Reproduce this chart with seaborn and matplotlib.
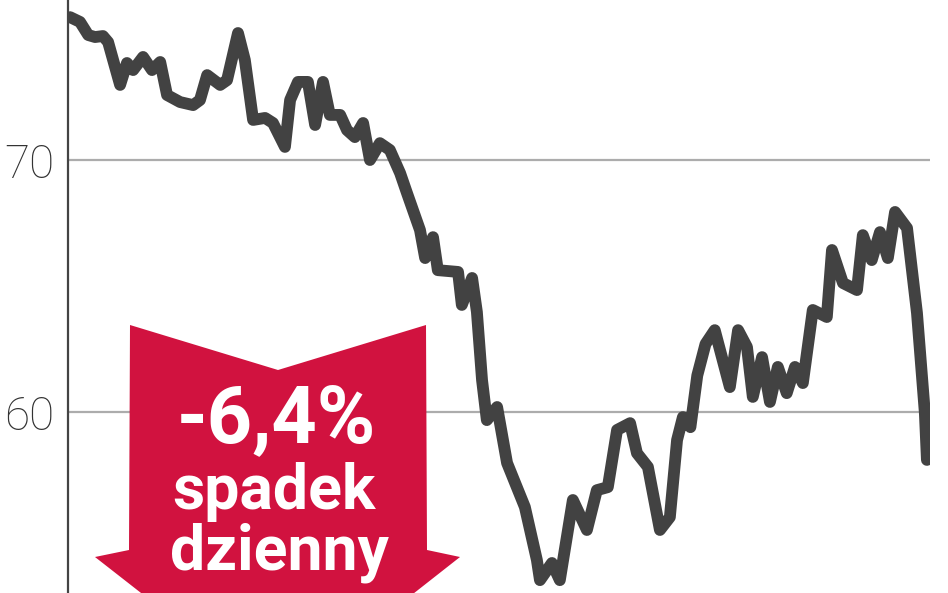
import matplotlib
matplotlib.use('agg')

import seaborn as sns
import matplotlib.pyplot as plt
from matplotlib.patches import Polygon


sns.set_style('white')
plt.rcParams['font.family'] = ['Roboto', 'DejaVu Sans']

# session number (trading days) and closing price
days = [0.0, 2.9, 5.3, 7.3, 9.6, 11.1, 14.6, 16.6, 18.4, 21.3, 23.9, 26.3, 28.3, 32.1,
        35.9, 37.9, 40.0, 43.8, 45.8, 49.0, 51.0, 53.4, 56.9, 59.2, 62.7, 64.2, 66.5,
        69.4, 71.5, 73.8, 75.8, 78.8, 80.8, 83.1, 85.5, 87.5, 90.4, 93.3, 96.3, 98.3,
        102.1, 103.6, 105.9, 107.3, 113.2, 114.3, 117.3, 118.7, 120.2, 121.6, 124.6,
        127.5, 132.7, 136.2, 137.1, 140.6, 142.9, 146.7, 150.8, 153.7, 156.9, 159.6,
        163.4, 165.4, 168.6, 172.1, 175.0, 177.1, 178.8, 181.0, 183.0, 185.4, 188.1,
        192.5, 194.9, 197.5, 199.2, 201.9, 204.2, 206.5, 209.1, 211.5, 213.8, 216.7,
        220.8, 222.3, 225.5, 229.6, 231.3, 233.9, 236.3, 238.6, 240.7, 244.2, 247.1,
        249.4, 250.0]
prices = [75.67, 75.48, 74.96, 74.88, 74.92, 74.68, 72.98, 73.85, 73.57, 74.09, 73.57,
          73.89, 72.58, 72.30, 72.18, 72.38, 73.37, 72.98, 73.17, 75.04, 73.97, 71.59,
          71.67, 71.47, 70.52, 72.38, 73.10, 73.10, 71.39, 73.10, 71.79, 71.79, 71.19,
          70.91, 71.47, 70.00, 70.67, 70.40, 69.48, 68.69, 67.22, 66.11, 66.94, 65.63,
          65.56, 64.25, 65.32, 63.97, 61.27, 59.68, 60.20, 57.98, 56.23, 54.13, 53.33,
          54.01, 53.33, 56.51, 55.32, 56.90, 57.02, 59.29, 59.56, 58.37, 57.82, 55.32,
          55.83, 58.89, 59.80, 59.40, 61.45, 62.70, 63.25, 60.99, 63.25, 62.58, 60.60,
          62.18, 60.40, 61.79, 60.75, 61.79, 61.15, 64.05, 63.77, 66.43, 65.12, 64.84,
          67.02, 66.03, 67.14, 66.11, 67.94, 67.30, 63.93, 59.96, 58.10]

y_ticks = [60, 70]
badge_lines = ['-6,4%', 'spadek', 'dzienny']

fig, ax = plt.subplots(figsize=(9.48, 5.93), dpi=100)
fig.subplots_adjust(left=68 / 948, right=930 / 948, top=1, bottom=0)

for v in y_ticks:
    ax.axhline(v, color='#acacac', lw=1.6, zorder=1)

sns.lineplot(x=days, y=prices, ax=ax, sort=False, color='#424242', lw=8.5,
             solid_joinstyle='round', solid_capstyle='round', zorder=4)

ax.set_xlim(-0.6, 250.9)
ax.set_ylim(52.82, 76.35)
ax.set_yticks(y_ticks)
ax.set_yticklabels([str(v) for v in y_ticks], fontsize=33, fontweight='light',
                   color='#333333')
ax.set_xticks([])
ax.tick_params(axis='y', length=0, pad=10)
sns.despine(ax=ax, top=True, right=True, bottom=True)
ax.spines['left'].set_color('#444444')
ax.spines['left'].set_linewidth(1.6)


def ax_xy(px, py):
    return ((px - 68) / 862, 1 - py / 593)


arrow_px = [(130, 325), (278, 370), (426, 325), (427, 550), (460, 557),
            (278, 700), (95, 557), (129, 550)]
arrow = Polygon([ax_xy(*p) for p in arrow_px], closed=True, transform=ax.transAxes,
                facecolor='#d1123f', edgecolor='none', zorder=3, clip_on=False)
ax.add_patch(arrow)

for (txt, px, py, fs) in zip(badge_lines, [276, 274, 279], [421, 492, 553], [57, 45, 45]):
    x, y = ax_xy(px, py)
    ax.text(x, y, txt, transform=ax.transAxes, ha='center', va='center',
            fontsize=fs, fontweight='bold', color='white', zorder=5)

fig.savefig('out.png', dpi=100)
